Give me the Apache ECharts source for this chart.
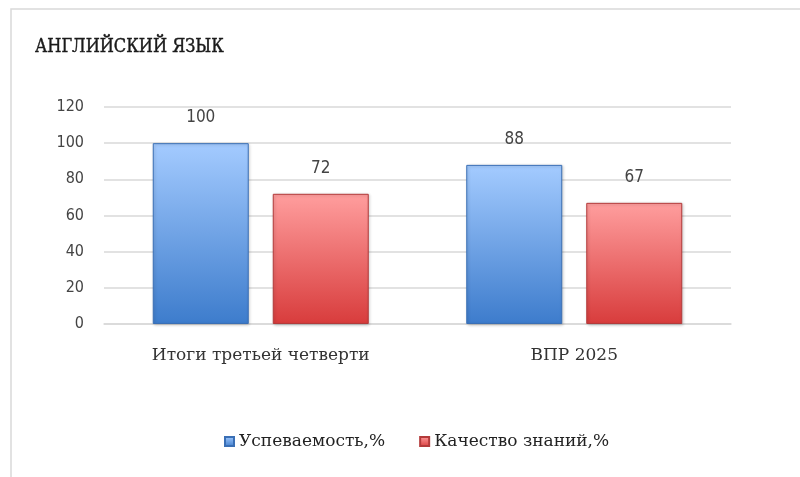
<!DOCTYPE html>
<html>
<head>
<meta charset="utf-8">
<script src="https://cdn.jsdelivr.net/npm/echarts@6/dist/echarts.min.js"></script>
<style>
  html, body { margin: 0; padding: 0; background: #fff; }
  #chart { width: 800px; height: 477px; }
</style>
</head>
<body>
<div id="chart"></div>
<script>
// data
var categories = ['Итоги третьей четверти', 'ВПР 2025']
var seriesNames = ['Успеваемость,%', 'Качество знаний,%']
var progress = [100, 88]
var quality = [72, 67]

var chart = echarts.init(document.getElementById('chart'))

function barGradient(top, bottom) {
  return new echarts.graphic.LinearGradient(0, 0, 0, 1, [
    { offset: 0, color: top },
    { offset: 1, color: bottom }
  ])
}

var serifFont = '"DejaVu Serif", "Liberation Serif", serif'
var condFont = '"DejaVu Serif Condensed", "Liberation Serif", serif'
var sansFont = '"DejaVu Sans Condensed", "Liberation Sans", sans-serif'

chart.setOption({
  backgroundColor: '#fff',
  animation: false,
  graphic: [{
    type: 'rect',
    shape: { x: 11, y: 9, width: 800, height: 480 },
    style: { fill: 'none', stroke: '#d9d9d9', lineWidth: 1.5 },
    silent: true
  }],
  title: {
    text: 'АНГЛИЙСКИЙ ЯЗЫК',
    left: 30,
    top: 33,
    textStyle: {
      fontFamily: condFont,
      fontSize: 18,
      fontWeight: 'normal',
      color: '#1a1a1a',
      textBorderColor: '#1a1a1a',
      textBorderWidth: 0.4
    }
  },
  grid: {
    left: 104,
    right: 69,
    top: 107,
    bottom: 153
  },
  legend: {
    bottom: 22,
    left: 219,
    itemWidth: 9,
    itemHeight: 9,
    itemGap: 34,
    icon: 'rect',
    textStyle: {
      fontFamily: serifFont,
      fontSize: 17,
      color: '#222'
    },
    data: seriesNames
  },
  xAxis: {
    type: 'category',
    data: categories,
    axisLine: { show: true, lineStyle: { color: '#d9d9d9', width: 1.5 } },
    axisTick: { show: false },
    axisLabel: {
      margin: 23,
      fontFamily: serifFont,
      fontSize: 17,
      color: '#333'
    }
  },
  yAxis: {
    type: 'value',
    min: 0,
    max: 120,
    interval: 20,
    axisLine: { show: false },
    axisTick: { show: false },
    splitLine: { lineStyle: { color: '#d9d9d9', width: 1.5 } },
    axisLabel: {
      margin: 20,
      fontFamily: sansFont,
      fontSize: 16,
      color: '#444'
    }
  },
  series: [{
    name: seriesNames[0],
    type: 'bar',
    data: progress,
    barWidth: 96,
    barGap: '25%',
    itemStyle: {
      color: barGradient('#a4cbff', '#3d7ccc'),
      borderColor: '#3a6fb5',
      borderWidth: 1,
      shadowColor: 'rgba(0,0,0,0.2)',
      shadowBlur: 3,
      shadowOffsetX: 1,
      shadowOffsetY: 1
    },
    label: {
      show: true,
      position: 'top',
      distance: 17,
      fontFamily: sansFont,
      fontSize: 17,
      color: '#444'
    }
  }, {
    name: seriesNames[1],
    type: 'bar',
    data: quality,
    barWidth: 96,
    itemStyle: {
      color: barGradient('#ff9e9e', '#d83c3c'),
      borderColor: '#b33a3a',
      borderWidth: 1,
      shadowColor: 'rgba(0,0,0,0.2)',
      shadowBlur: 3,
      shadowOffsetX: 1,
      shadowOffsetY: 1
    },
    label: {
      show: true,
      position: 'top',
      distance: 17,
      fontFamily: sansFont,
      fontSize: 17,
      color: '#444'
    }
  }],
  color: ['#4a84d0', '#d84a4a']
})
</script>
</body>
</html>
